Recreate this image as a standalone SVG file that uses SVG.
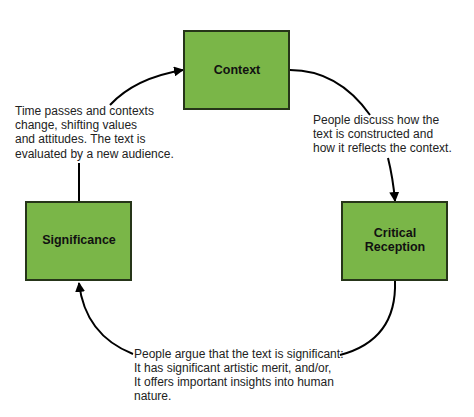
<svg xmlns="http://www.w3.org/2000/svg" width="474" height="417" viewBox="0 0 474 417">
<style>
.box{fill:#7ab648;stroke:#263519;stroke-width:2}
.lbl{font-family:"Liberation Sans",Arial,sans-serif;font-weight:bold;font-size:12.5px;fill:#111;text-anchor:middle}
.txt{font-family:"Liberation Sans",Arial,sans-serif;font-size:12px;fill:#222}
.con{fill:none;stroke:#000;stroke-width:2}
</style>
<defs>
<marker id="ah" viewBox="0 0 10 10" refX="9" refY="5" markerWidth="5" markerHeight="5" markerUnits="strokeWidth" orient="auto">
<path d="M0,0 L10,5 L0,10 z" fill="#000"/>
</marker>
</defs>
<rect width="474" height="417" fill="#fff"/>
<g id="connectors">
<path class="con" d="M79,202 L79,163"/>
<path class="con" d="M110,105 Q135,78 183,70" marker-end="url(#ah)"/>
<path class="con" d="M290,70 Q338,70 370,115"/>
<path class="con" d="M388,158 Q393,178 395,201" marker-end="url(#ah)"/>
<path class="con" d="M395,281 Q397,340 340,355"/>
<path class="con" d="M133,354 Q85,335 79,283" marker-end="url(#ah)"/>
</g>
<g id="context">
<rect class="box" x="184" y="31" width="105" height="78"/>
<text class="lbl" x="237" y="74">Context</text>
</g>
<g id="significance">
<rect class="box" x="26" y="202" width="105" height="78"/>
<text class="lbl" x="79" y="244">Significance</text>
</g>
<g id="critical-reception">
<rect class="box" x="342" y="202" width="105" height="78"/>
<text class="lbl" x="395" y="237">Critical</text>
<text class="lbl" x="395" y="251">Reception</text>
</g>
<g id="labels">
<text class="txt" x="15" y="115">Time passes and contexts</text>
<text class="txt" x="15" y="129">change, shifting values</text>
<text class="txt" x="15" y="143">and attitudes. The text is</text>
<text class="txt" x="15" y="158">evaluated by a new audience.</text>
<text class="txt" x="313" y="124">People discuss how the</text>
<text class="txt" x="313" y="138">text is constructed and</text>
<text class="txt" x="313" y="152">how it reflects the context.</text>
<text class="txt" x="134" y="358">People argue that the text is significant:</text>
<text class="txt" x="134" y="372">It has significant artistic merit, and/or,</text>
<text class="txt" x="134" y="386">It offers important insights into human</text>
<text class="txt" x="134" y="400">nature.</text>
</g>
</svg>
